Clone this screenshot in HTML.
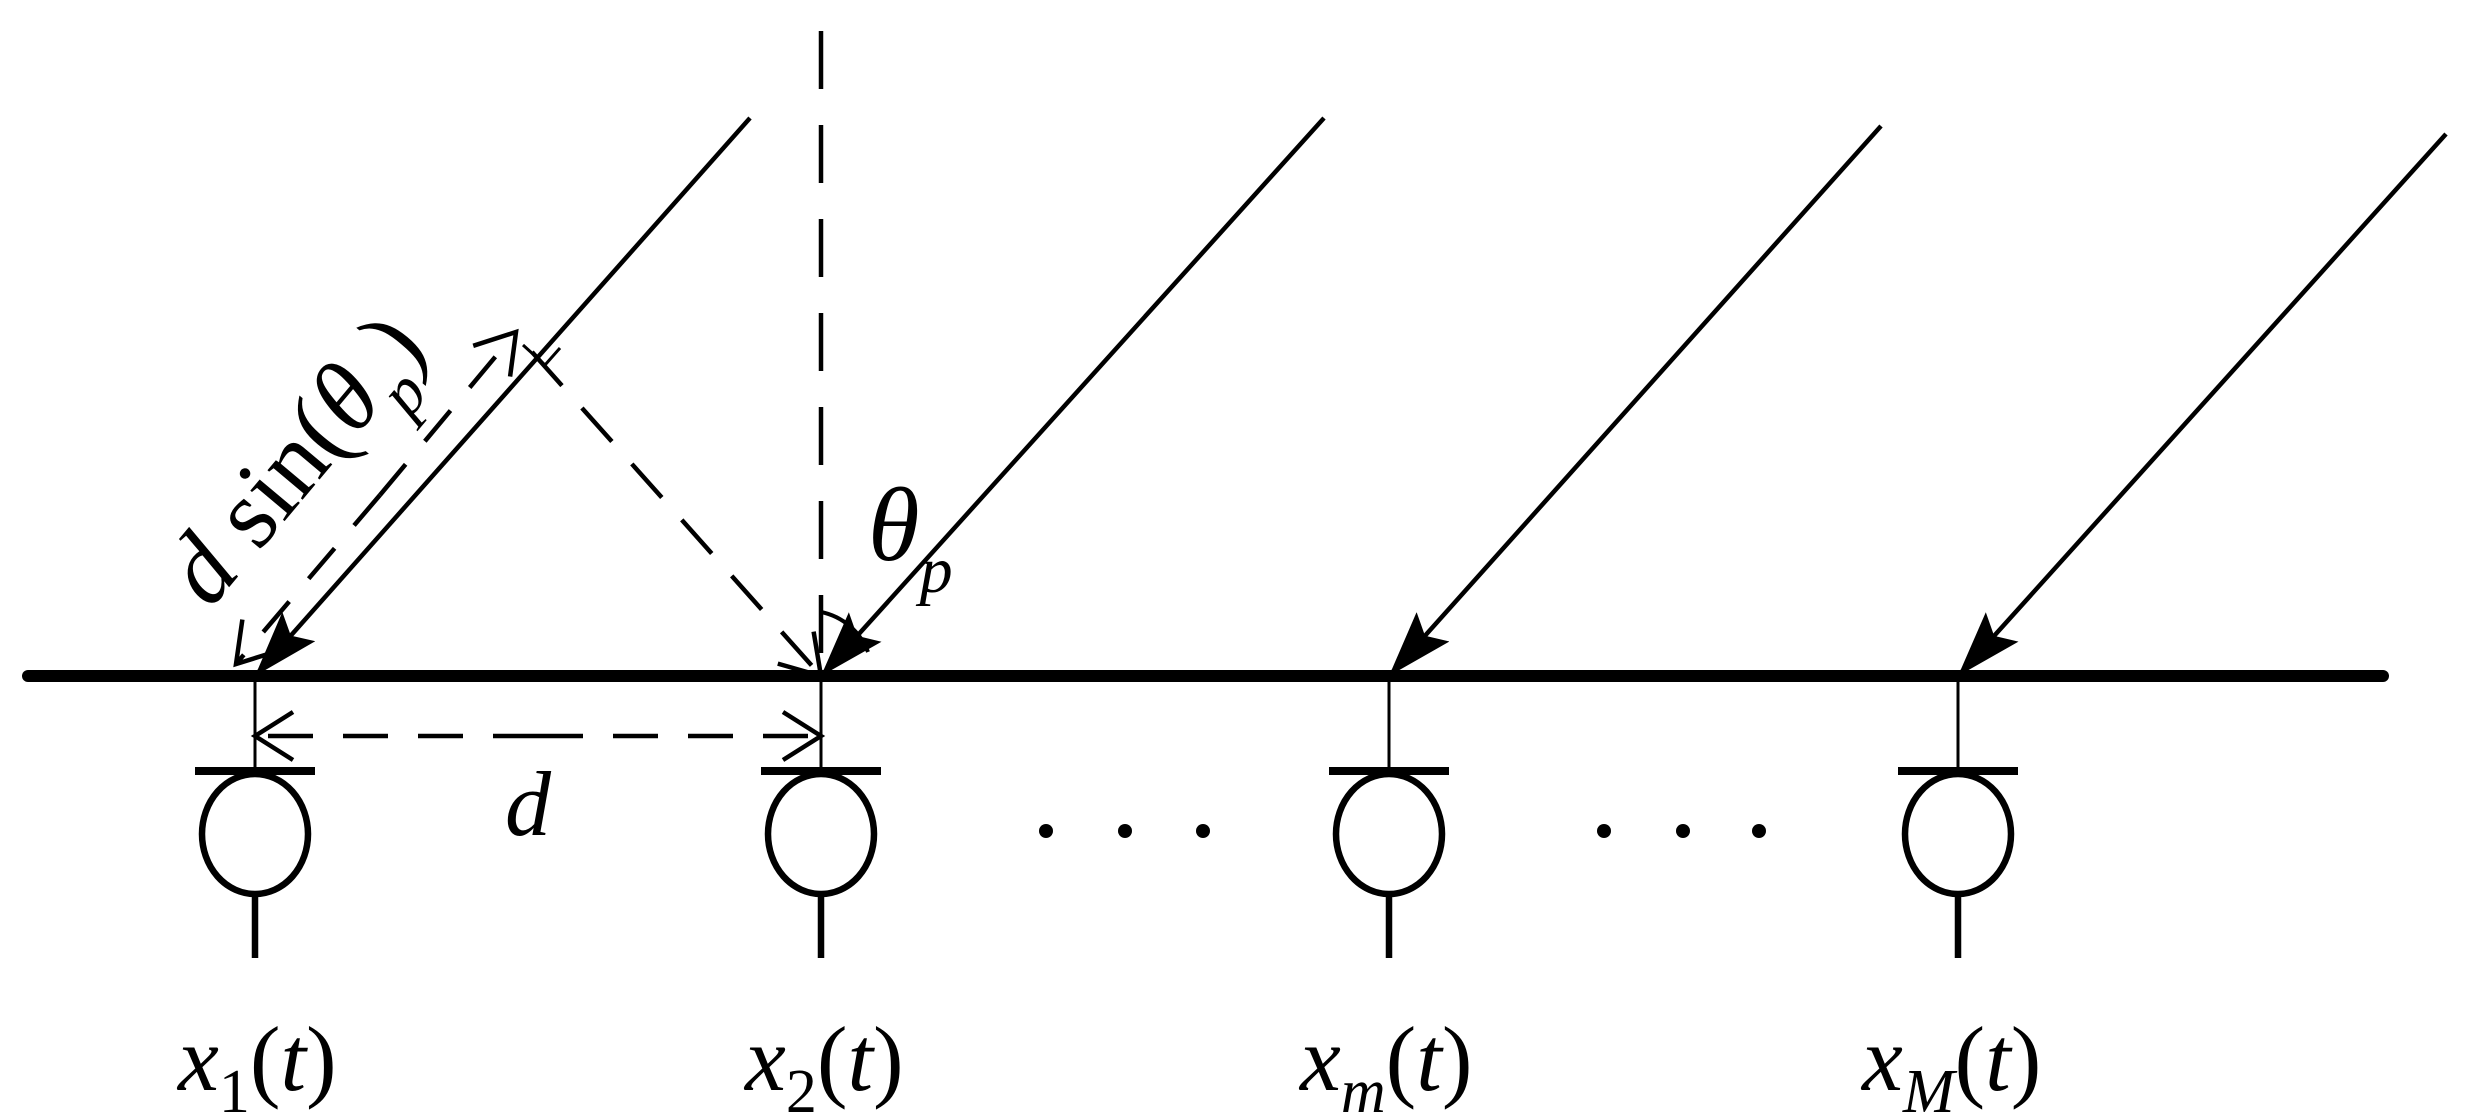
<!DOCTYPE html>
<html><head><meta charset="utf-8"><style>
html,body{margin:0;padding:0;background:#fff;}
svg{display:block;}
text{font-family:"Liberation Serif",serif;font-style:italic;fill:#000;}
</style></head><body>
<svg width="2466" height="1115" viewBox="0 0 2466 1115" xmlns="http://www.w3.org/2000/svg">
<defs>
<marker id="fa" markerWidth="80" markerHeight="50" refX="66" refY="22" orient="auto" markerUnits="userSpaceOnUse">
<path d="M0,0 L66,22 L0,44 L12,22 Z" fill="#000"/>
</marker>
<marker id="oa" markerWidth="60" markerHeight="60" refX="46" refY="26" orient="auto" markerUnits="userSpaceOnUse">
<path d="M8,2 L46,26 L8,50" fill="none" stroke="#000" stroke-width="4.5"/>
</marker>
</defs>
<g stroke="#000" fill="none" stroke-linecap="butt">
<line x1="28" y1="676" x2="2383" y2="676" stroke-width="12" stroke-linecap="round"/>
<line x1="821" y1="31" x2="821" y2="676" stroke-width="4.5" stroke-dasharray="58,36"/>
<line x1="750" y1="118" x2="255" y2="676" stroke-width="4.5" marker-end="url(#fa)"/>
<line x1="1324" y1="118" x2="821" y2="676" stroke-width="4.5" marker-end="url(#fa)"/>
<line x1="1881" y1="126" x2="1389" y2="676" stroke-width="4.5" marker-end="url(#fa)"/>
<line x1="2446" y1="134" x2="1958" y2="676" stroke-width="4.5" marker-end="url(#fa)"/>
<path d="M523,345 L545,365 L560,348" stroke-width="3"/>
<line x1="532" y1="352" x2="821" y2="676" stroke-width="4.5" stroke-dasharray="45,30" marker-end="url(#oa)"/>
<line x1="380" y1="495" x2="516" y2="332" stroke-width="4.5" stroke-dasharray="40,30" marker-end="url(#oa)"/>
<line x1="380" y1="495" x2="236" y2="664" stroke-width="4.5" stroke-dasharray="40,30" marker-end="url(#oa)"/>
<line x1="538" y1="736" x2="821" y2="736" stroke-width="4.5" stroke-dasharray="45,30" marker-end="url(#oa)"/>
<line x1="538" y1="736" x2="255" y2="736" stroke-width="4.5" stroke-dasharray="45,30" marker-end="url(#oa)"/>
<path d="M821,612 A64,64 0 0 1 868,652" stroke-width="4"/>
<g stroke-width="3">
<line x1="255" y1="676" x2="255" y2="771"/><line x1="821" y1="676" x2="821" y2="771"/>
<line x1="1389" y1="676" x2="1389" y2="771"/><line x1="1958" y1="676" x2="1958" y2="771"/>
</g>
<g stroke-width="8">
<line x1="195" y1="771" x2="315" y2="771"/><line x1="761" y1="771" x2="881" y2="771"/>
<line x1="1329" y1="771" x2="1449" y2="771"/><line x1="1898" y1="771" x2="2018" y2="771"/>
</g>
<g stroke-width="6.5">
<ellipse cx="255" cy="834" rx="53" ry="60"/><ellipse cx="821" cy="834" rx="53" ry="60"/>
<ellipse cx="1389" cy="834" rx="53" ry="60"/><ellipse cx="1958" cy="834" rx="53" ry="60"/>
<line x1="255" y1="894" x2="255" y2="958"/><line x1="821" y1="894" x2="821" y2="958"/>
<line x1="1389" y1="894" x2="1389" y2="958"/><line x1="1958" y1="894" x2="1958" y2="958"/>
</g>
</g>
<g fill="#000">
<circle cx="1046" cy="831" r="7"/><circle cx="1125" cy="831" r="7"/><circle cx="1203" cy="831" r="7"/>
<circle cx="1604" cy="831" r="7"/><circle cx="1683" cy="831" r="7"/><circle cx="1759" cy="831" r="7"/>
</g>
<text x="505" y="835" font-size="92">d</text>
<text x="868" y="560" font-size="105">θ<tspan font-size="66" dy="32">p</tspan></text>
<text transform="translate(210,610) rotate(-50)" font-size="100">d <tspan font-style="normal">sin(</tspan>θ<tspan font-size="66" dy="30">p</tspan><tspan font-style="normal" dy="-30">)</tspan></text>
<text x="178" y="1090" font-size="92">x<tspan font-size="62" font-style="normal" dy="22">1</tspan><tspan font-style="normal" dy="-22">(</tspan>t<tspan font-style="normal">)</tspan></text>
<text x="745" y="1090" font-size="92">x<tspan font-size="62" font-style="normal" dy="22">2</tspan><tspan font-style="normal" dy="-22">(</tspan>t<tspan font-style="normal">)</tspan></text>
<text x="1300" y="1090" font-size="92">x<tspan font-size="62" dy="22">m</tspan><tspan font-style="normal" dy="-22">(</tspan>t<tspan font-style="normal">)</tspan></text>
<text x="1862" y="1090" font-size="92">x<tspan font-size="62" dy="22">M</tspan><tspan font-style="normal" dy="-22">(</tspan>t<tspan font-style="normal">)</tspan></text>
</svg>
</body></html>
